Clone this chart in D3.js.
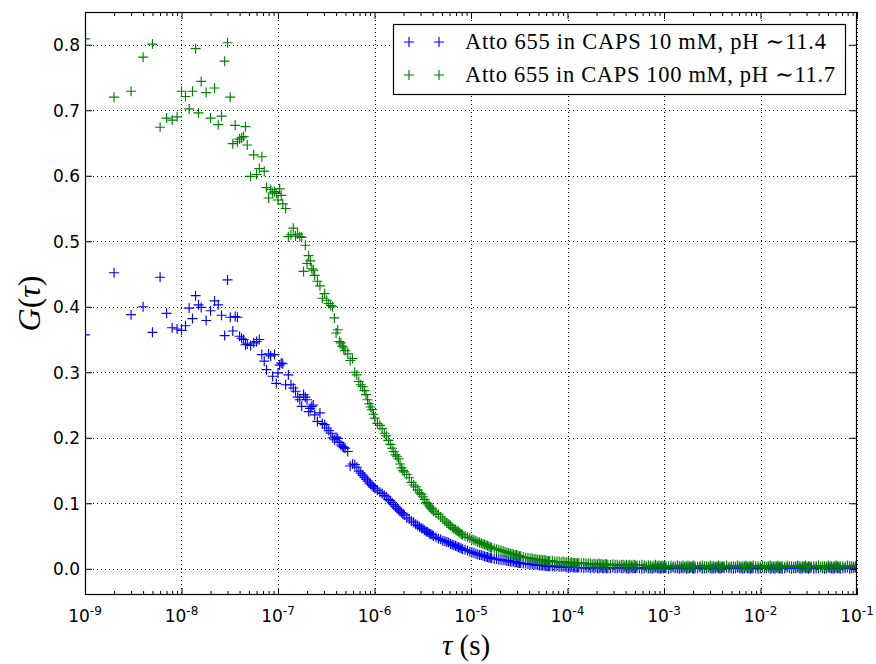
<!DOCTYPE html>
<html>
<head>
<meta charset="utf-8">
<script src="https://cdn.jsdelivr.net/npm/d3@7"></script>
<style>
  body { margin: 0; background: #fff; }
  svg { display: block; }
</style>
</head>
<body>
<svg id="chart" width="876" height="664"></svg>
<script>
// Lag times of the multi-tau correlator in nanoseconds: 16 linear channels, then 16 per level with doubling step
const lagNs = [
  1, 2, 3, 4, 5, 6, 7, 8, 9, 10, 11, 12, 13, 14, 15, 16,
  18, 20, 22, 24, 26, 28, 30, 32, 34, 36, 38, 40, 42, 44, 46, 48,
  52, 56, 60, 64, 68, 72, 76, 80, 84, 88, 92, 96, 100, 104, 108, 112,
  120, 128, 136, 144, 152, 160, 168, 176, 184, 192, 200, 208, 216, 224, 232, 240,
  256, 272, 288, 304, 320, 336, 352, 368, 384, 400, 416, 432, 448, 464, 480, 496,
  528, 560, 592, 624, 656, 688, 720, 752, 784, 816, 848, 880, 912, 944, 976, 1008,
  1072, 1136, 1200, 1264, 1328, 1392, 1456, 1520, 1584, 1648, 1712, 1776, 1840, 1904, 1968, 2032,
  2160, 2288, 2416, 2544, 2672, 2800, 2928, 3056, 3184, 3312, 3440, 3568, 3696, 3824, 3952, 4080,
  4336, 4592, 4848, 5104, 5360, 5616, 5872, 6128, 6384, 6640, 6896, 7152, 7408, 7664, 7920, 8176,
  8688, 9200, 9712, 10224, 10736, 11248, 11760, 12272, 12784, 13296, 13808, 14320, 14832, 15344, 15856, 16368,
  17392, 18416, 19440, 20464, 21488, 22512, 23536, 24560, 25584, 26608, 27632, 28656, 29680, 30704, 31728, 32752,
  34800, 36848, 38896, 40944, 42992, 45040, 47088, 49136, 51184, 53232, 55280, 57328, 59376, 61424, 63472, 65520,
  69616, 73712, 77808, 81904, 86000, 90096, 94192, 98288, 102384, 106480, 110576, 114672, 118768, 122864, 126960, 131056,
  139248, 147440, 155632, 163824, 172016, 180208, 188400, 196592, 204784, 212976, 221168, 229360, 237552, 245744, 253936, 262128,
  278512, 294896, 311280, 327664, 344048, 360432, 376816, 393200, 409584, 425968, 442352, 458736, 475120, 491504, 507888, 524272,
  557040, 589808, 622576, 655344, 688112, 720880, 753648, 786416, 819184, 851952, 884720, 917488, 950256, 983024, 1015792, 1048560,
  1114096, 1179632, 1245168, 1310704, 1376240, 1441776, 1507312, 1572848, 1638384, 1703920, 1769456, 1834992, 1900528, 1966064, 2031600, 2097136,
  2228208, 2359280, 2490352, 2621424, 2752496, 2883568, 3014640, 3145712, 3276784, 3407856, 3538928, 3670000, 3801072, 3932144, 4063216, 4194288,
  4456432, 4718576, 4980720, 5242864, 5505008, 5767152, 6029296, 6291440, 6553584, 6815728, 7077872, 7340016, 7602160, 7864304, 8126448, 8388592,
  8912880, 9437168, 9961456, 10485744, 11010032, 11534320, 12058608, 12582896, 13107184, 13631472, 14155760, 14680048, 15204336, 15728624, 16252912, 16777200,
  17825776, 18874352, 19922928, 20971504, 22020080, 23068656, 24117232, 25165808, 26214384, 27262960, 28311536, 29360112, 30408688, 31457264, 32505840, 33554416,
  35651568, 37748720, 39845872, 41943024, 44040176, 46137328, 48234480, 50331632, 52428784, 54525936, 56623088, 58720240, 60817392, 62914544, 65011696, 67108848,
  71303152, 75497456, 79691760, 83886064, 88080368, 92274672, 96468976, 100663280
];

// G(tau) for Atto 655 in CAPS 10 mM, pH ~11.4
const gCaps10 = [
  0.357, 0.452, 0.388, 0.400, 0.361, 0.445, 0.390, 0.368, 0.366, 0.364, 0.371, 0.398, 0.382, 0.417, 0.403, 0.399,
  0.379, 0.394, 0.409, 0.403, 0.387, 0.356, 0.441, 0.384, 0.363, 0.385, 0.384, 0.355, 0.352, 0.350, 0.342, 0.343,
  0.341, 0.345, 0.347, 0.350, 0.327, 0.317, 0.304, 0.328, 0.325, 0.294, 0.327, 0.283, 0.299, 0.311, 0.314, 0.313,
  0.281, 0.296, 0.281, 0.276, 0.271, 0.262, 0.258, 0.248, 0.266, 0.262, 0.258, 0.240, 0.245, 0.248, 0.250, 0.235,
  0.225, 0.238, 0.222, 0.220, 0.215, 0.211, 0.207, 0.200, 0.197, 0.201, 0.199, 0.193, 0.189, 0.187, 0.185, 0.184,
  0.179, 0.157, 0.160, 0.159, 0.155, 0.149, 0.146, 0.143, 0.140, 0.137, 0.134, 0.131, 0.129, 0.127, 0.125, 0.123,
  0.120, 0.117, 0.115, 0.112, 0.110, 0.106, 0.104, 0.101, 0.098, 0.095, 0.092, 0.090, 0.088, 0.086, 0.084, 0.082,
  0.078, 0.076, 0.073, 0.071, 0.068, 0.066, 0.064, 0.062, 0.061, 0.059, 0.057, 0.056, 0.054, 0.053, 0.052, 0.050,
  0.048, 0.046, 0.045, 0.043, 0.042, 0.041, 0.040, 0.038, 0.037, 0.036, 0.035, 0.034, 0.033, 0.032, 0.031, 0.030,
  0.029, 0.028, 0.026, 0.025, 0.024, 0.023, 0.022, 0.021, 0.021, 0.020, 0.019, 0.018, 0.018, 0.017, 0.017, 0.016,
  0.015, 0.015, 0.014, 0.014, 0.013, 0.013, 0.012, 0.012, 0.011, 0.011, 0.011, 0.010, 0.010, 0.009, 0.009, 0.009,
  0.008, 0.008, 0.007, 0.007, 0.007, 0.006, 0.006, 0.006, 0.005, 0.005, 0.005, 0.005, 0.004, 0.004, 0.004, 0.004,
  0.004, 0.003, 0.004, 0.003, 0.003, 0.003, 0.003, 0.002, 0.003, 0.002, 0.003, 0.002, 0.002, 0.002, 0.002, 0.002,
  0.002, 0.001, 0.002, 0.002, 0.001, 0.002, 0.001, 0.002, 0.001, 0.001, 0.002, 0.001, 0.001, 0.002, 0.001, 0.001,
  0.001, 0.002, 0.001, 0.001, 0.002, 0.001, 0.001, 0.002, 0.001, 0.000, 0.001, 0.002, 0.001, 0.001, 0.001, 0.002,
  0.001, 0.000, 0.001, 0.002, 0.001, 0.001, 0.000, 0.001, 0.002, 0.001, 0.001, 0.000, 0.001, 0.001, 0.002, 0.001,
  0.000, 0.001, 0.002, 0.001, 0.001, 0.000, 0.001, 0.001, 0.002, 0.000, 0.001, 0.001, 0.002, 0.001, 0.000, 0.001,
  0.001, 0.002, 0.000, 0.001, 0.001, 0.002, 0.001, 0.000, 0.001, 0.001, 0.002, 0.001, 0.000, 0.001, 0.002, 0.001,
  0.002, 0.001, 0.001, 0.000, 0.001, 0.002, 0.001, 0.001, 0.000, 0.001, 0.002, 0.001, 0.001, 0.000, 0.001, 0.001,
  0.001, 0.000, 0.001, 0.002, 0.001, 0.001, 0.002, 0.000, 0.001, 0.001, 0.000, 0.002, 0.001, 0.001, 0.001, 0.000,
  0.001, 0.002, 0.001, 0.000, 0.001, 0.001, 0.002, 0.001, 0.000, 0.001, 0.002, 0.001, 0.001, 0.000, 0.001, 0.002,
  0.000, 0.001, 0.001, 0.002, 0.001, 0.000, 0.001, 0.002, 0.001, 0.001, 0.000, 0.001, 0.002, 0.001, 0.001, 0.000,
  0.001, 0.001, 0.002, 0.000, 0.001, 0.001, 0.002, 0.001
];

// G(tau) for Atto 655 in CAPS 100 mM, pH ~11.7
const gCaps100 = [
  0.809, 0.720, 0.729, 0.781, 0.801, 0.674, 0.688, 0.685, 0.690, 0.729, 0.721, 0.702, 0.729, 0.794, 0.696, 0.744,
  0.727, 0.688, 0.734, 0.678, 0.691, 0.775, 0.803, 0.720, 0.649, 0.677, 0.652, 0.656, 0.658, 0.660, 0.675, 0.647,
  0.599, 0.632, 0.602, 0.611, 0.629, 0.607, 0.582, 0.566, 0.579, 0.574, 0.576, 0.573, 0.563, 0.580, 0.570, 0.557,
  0.550, 0.507, 0.510, 0.520, 0.508, 0.511, 0.507, 0.506, 0.454, 0.494, 0.466, 0.478, 0.470, 0.458, 0.456, 0.448,
  0.439, 0.432, 0.413, 0.420, 0.410, 0.405, 0.402, 0.400, 0.383, 0.360, 0.365, 0.347, 0.345, 0.340, 0.337, 0.333,
  0.328, 0.318, 0.321, 0.300, 0.296, 0.286, 0.281, 0.278, 0.272, 0.266, 0.258, 0.252, 0.247, 0.243, 0.236, 0.230,
  0.222, 0.219, 0.214, 0.207, 0.203, 0.196, 0.190, 0.184, 0.179, 0.174, 0.171, 0.168, 0.160, 0.154, 0.150, 0.148,
  0.144, 0.139, 0.132, 0.128, 0.125, 0.120, 0.116, 0.114, 0.110, 0.106, 0.101, 0.099, 0.096, 0.093, 0.091, 0.088,
  0.085, 0.083, 0.079, 0.076, 0.073, 0.070, 0.068, 0.066, 0.063, 0.061, 0.060, 0.058, 0.057, 0.055, 0.053, 0.052,
  0.050, 0.048, 0.047, 0.045, 0.044, 0.043, 0.041, 0.040, 0.039, 0.038, 0.037, 0.036, 0.035, 0.034, 0.033, 0.032,
  0.031, 0.030, 0.029, 0.028, 0.027, 0.026, 0.025, 0.024, 0.023, 0.023, 0.022, 0.021, 0.021, 0.020, 0.019, 0.019,
  0.018, 0.017, 0.017, 0.016, 0.016, 0.015, 0.015, 0.014, 0.014, 0.014, 0.013, 0.013, 0.013, 0.012, 0.012, 0.012,
  0.012, 0.011, 0.011, 0.011, 0.010, 0.011, 0.010, 0.010, 0.010, 0.009, 0.010, 0.009, 0.009, 0.009, 0.008, 0.009,
  0.008, 0.009, 0.008, 0.008, 0.008, 0.007, 0.008, 0.007, 0.007, 0.008, 0.007, 0.007, 0.006, 0.007, 0.007, 0.006,
  0.006, 0.007, 0.006, 0.006, 0.005, 0.006, 0.006, 0.005, 0.006, 0.005, 0.006, 0.005, 0.005, 0.006, 0.005, 0.005,
  0.005, 0.006, 0.005, 0.004, 0.005, 0.005, 0.004, 0.005, 0.006, 0.004, 0.005, 0.004, 0.005, 0.004, 0.005, 0.004,
  0.004, 0.005, 0.004, 0.003, 0.005, 0.004, 0.004, 0.005, 0.003, 0.004, 0.005, 0.004, 0.003, 0.004, 0.005, 0.004,
  0.003, 0.004, 0.005, 0.004, 0.004, 0.003, 0.005, 0.004, 0.004, 0.003, 0.004, 0.005, 0.004, 0.003, 0.004, 0.004,
  0.005, 0.003, 0.004, 0.004, 0.003, 0.005, 0.004, 0.003, 0.004, 0.004, 0.005, 0.003, 0.004, 0.004, 0.003, 0.005,
  0.004, 0.004, 0.003, 0.005, 0.004, 0.003, 0.004, 0.005, 0.004, 0.003, 0.004, 0.004, 0.005, 0.003, 0.004, 0.004,
  0.003, 0.005, 0.004, 0.004, 0.003, 0.004, 0.005, 0.004, 0.003, 0.004, 0.004, 0.005, 0.003, 0.004, 0.004, 0.003,
  0.004, 0.004, 0.005, 0.003, 0.004, 0.004, 0.003, 0.005, 0.004, 0.004, 0.003, 0.004, 0.005, 0.004, 0.003, 0.004,
  0.004, 0.003, 0.005, 0.004, 0.004, 0.003, 0.004, 0.005
];

const seriesLabels = ["Atto 655 in CAPS 10 mM, pH \u223C11.4", "Atto 655 in CAPS 100 mM, pH \u223C11.7"];
const seriesColors = ["#0000ff", "#008000"];
const xMajorExponents = [-9, -8, -7, -6, -5, -4, -3, -2, -1];
const yTickValues = [0.0, 0.1, 0.2, 0.3, 0.4, 0.5, 0.6, 0.7, 0.8];

const svg = d3.select("#chart");
const plot = { left: 85, right: 857, top: 12, bottom: 595 };

const x = d3.scaleLog().domain([1e-9, 1e-1]).range([plot.left, plot.right]);
const y = d3.scaleLinear().domain([-0.04, 0.85]).range([plot.bottom, plot.top]);

const tickFont = "'DejaVu Sans', sans-serif";
const textFont = "'Liberation Serif', 'DejaVu Serif', serif";

svg.append("defs").append("clipPath").attr("id", "plot-clip")
  .append("rect")
  .attr("x", plot.left).attr("y", plot.top)
  .attr("width", plot.right - plot.left).attr("height", plot.bottom - plot.top);

// Dotted grid at the major ticks
const majorTicks = xMajorExponents.map(e => Math.pow(10, e));
const grid = svg.append("g")
  .attr("stroke", "#000").attr("stroke-width", 1).attr("stroke-dasharray", "1,3");
grid.selectAll("line.v").data(majorTicks)
  .join("line").attr("class", "v")
  .attr("x1", d => Math.round(x(d)) + 0.5).attr("x2", d => Math.round(x(d)) + 0.5)
  .attr("y1", plot.top).attr("y2", plot.bottom);
grid.selectAll("line.h").data(yTickValues)
  .join("line").attr("class", "h")
  .attr("x1", plot.left).attr("x2", plot.right)
  .attr("y1", d => Math.round(y(d)) + 0.5).attr("y2", d => Math.round(y(d)) + 0.5);

// Data markers ("+"), blue series first, green on top
const plusPath = "M-5,0H5M0,-5V5";
const series = [gCaps10, gCaps100];
const marks = svg.append("g").attr("clip-path", "url(#plot-clip)");
series.forEach((vals, i) => {
  marks.append("g")
    .selectAll("path")
    .data(lagNs.map((t, j) => ({ tau: t * 1e-9, g: vals[j] })))
    .join("path")
    .attr("d", plusPath)
    .attr("transform", d => `translate(${x(d.tau)},${y(d.g)})`)
    .attr("fill", "none")
    .attr("stroke", seriesColors[i])
    .attr("stroke-width", 1.15);
});

// Axes: ticks point inward on all four sides
const minorTicks = x.ticks().filter(v => Math.abs(Math.log10(v) - Math.round(Math.log10(v))) > 1e-6);

const axBottom = svg.append("g").attr("transform", `translate(0,${plot.bottom})`)
  .call(d3.axisBottom(x).tickValues(majorTicks).tickSizeInner(-7).tickSizeOuter(0).tickFormat(""));
const axTop = svg.append("g").attr("transform", `translate(0,${plot.top})`)
  .call(d3.axisTop(x).tickValues(majorTicks).tickSizeInner(-7).tickSizeOuter(0).tickFormat(""));
const axBottomMinor = svg.append("g").attr("transform", `translate(0,${plot.bottom})`)
  .call(d3.axisBottom(x).tickValues(minorTicks).tickSizeInner(-4).tickSizeOuter(0).tickFormat(""));
const axTopMinor = svg.append("g").attr("transform", `translate(0,${plot.top})`)
  .call(d3.axisTop(x).tickValues(minorTicks).tickSizeInner(-4).tickSizeOuter(0).tickFormat(""));
const axLeft = svg.append("g").attr("transform", `translate(${plot.left},0)`)
  .call(d3.axisLeft(y).tickValues(yTickValues).tickSizeInner(-7).tickSizeOuter(0)
    .tickFormat(d3.format(".1f")));
const axRight = svg.append("g").attr("transform", `translate(${plot.right},0)`)
  .call(d3.axisRight(y).tickValues(yTickValues).tickSizeInner(-7).tickSizeOuter(0).tickFormat(""));

[axBottom, axTop, axBottomMinor, axTopMinor, axLeft, axRight].forEach(a => {
  a.select(".domain").remove();
  a.selectAll(".tick line").attr("stroke", "#000").attr("stroke-width", 1);
});
axLeft.selectAll(".tick text")
  .attr("font-family", tickFont).attr("font-size", 17).attr("fill", "#000")
  .attr("x", -5).attr("dy", "0.36em");

// Log tick labels: 10 with a superscript exponent
const xLabels = svg.append("g").attr("font-family", tickFont).attr("fill", "#000");
xMajorExponents.forEach(e => {
  const t = xLabels.append("text")
    .attr("x", x(Math.pow(10, e)))
    .attr("y", plot.bottom + 27)
    .attr("text-anchor", "middle");
  t.append("tspan").attr("font-size", 17).text("10");
  t.append("tspan").attr("font-size", 12).attr("dy", -7).text("-" + Math.abs(e));
});

// Frame
svg.append("rect")
  .attr("x", plot.left + 0.5).attr("y", plot.top + 0.5)
  .attr("width", plot.right - plot.left - 1).attr("height", plot.bottom - plot.top - 1)
  .attr("fill", "none").attr("stroke", "#000").attr("stroke-width", 1.2);

// Axis titles
const yTitle = svg.append("text")
  .attr("transform", `translate(40,${(plot.top + plot.bottom) / 2}) rotate(-90)`)
  .attr("text-anchor", "middle")
  .attr("font-family", textFont).attr("font-size", 32).attr("fill", "#000");
yTitle.append("tspan").attr("font-style", "italic").text("G");
yTitle.append("tspan").text("(");
yTitle.append("tspan").attr("font-style", "italic").text("\u03C4");
yTitle.append("tspan").text(")");

const xTitle = svg.append("text")
  .attr("x", 466)
  .attr("y", 655)
  .attr("text-anchor", "middle")
  .attr("font-family", textFont).attr("font-size", 29).attr("fill", "#000");
xTitle.append("tspan").attr("font-style", "italic").text("\u03C4");
xTitle.append("tspan").text(" (s)");

// Legend
const legend = svg.append("g");
legend.append("rect")
  .attr("x", 393.5).attr("y", 24.5).attr("width", 452).attr("height", 70)
  .attr("fill", "#fff").attr("stroke", "#000").attr("stroke-width", 1.2);
const legendTextWidths = [361, 370];
seriesLabels.forEach((label, i) => {
  const cy = 42 + i * 33;
  [409, 439].forEach(cx => {
    legend.append("path").attr("d", plusPath)
      .attr("transform", `translate(${cx},${cy})`)
      .attr("fill", "none").attr("stroke", seriesColors[i]).attr("stroke-width", 1.15);
  });
  legend.append("text")
    .attr("x", 465).attr("y", cy + 7)
    .attr("font-family", textFont).attr("font-size", 22.5).attr("fill", "#000")
    .attr("textLength", legendTextWidths[i]).attr("lengthAdjust", "spacing")
    .text(label);
});
</script>
</body>
</html>
